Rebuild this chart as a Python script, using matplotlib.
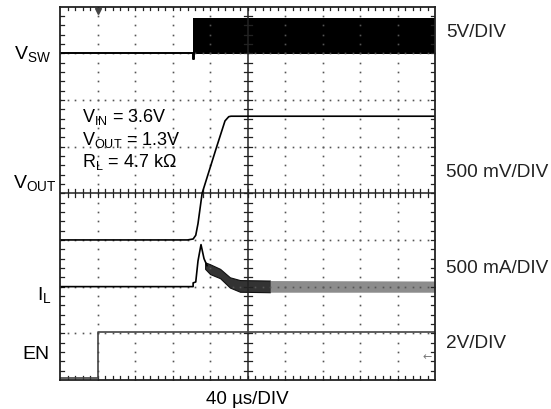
import numpy as np
import matplotlib
matplotlib.use("Agg")
import matplotlib.pyplot as plt

plt.rcParams['font.family'] = ['Liberation Sans', 'DejaVu Sans']
plt.rcParams['mathtext.fontset'] = 'custom'
plt.rcParams['mathtext.rm'] = 'Liberation Sans'
plt.rcParams['mathtext.it'] = 'Liberation Sans'

# Traces, in scope divisions (x: 0..10, y: 0..8)
vsw_t = [0.0, 3.55, 3.55, 3.58, 3.58]
vsw_v = [7.0, 7.0, 6.87, 6.87, 7.0]
vsw_band_t = [3.55, 10.0]
vsw_band_lo = [6.98, 6.98]
vsw_band_hi = [7.75, 7.75]

vout_t = [0.0, 3.40, 3.55, 3.62, 3.68, 3.79, 4.18, 4.40, 4.50, 4.56, 10.0]
vout_v = [3.0, 3.0, 3.02, 3.10, 3.35, 4.0, 5.0, 5.55, 5.64, 5.65, 5.65]

il_t = [0.0, 3.55, 3.55, 3.62, 3.68, 3.76, 3.84, 3.92]
il_v = [2.0, 2.0, 2.08, 2.10, 2.55, 2.90, 2.60, 2.45]
il_band_t = [3.87, 4.0, 4.27, 4.53, 4.80, 5.60]
il_band_hi = [2.52, 2.48, 2.38, 2.20, 2.14, 2.13]
il_band_lo = [2.38, 2.27, 2.18, 1.98, 1.89, 1.88]
il_steady_t = [5.60, 10.0]
il_steady_hi = [2.13, 2.12]
il_steady_lo = [1.88, 1.88]

en_t = [0.0, 1.0, 1.0, 10.0]
en_v = [0.04, 0.04, 1.03, 1.03]

left_labels = [r'V$_{\mathrm{SW}}$', r'V$_{\mathrm{OUT}}$', r'I$_{\mathrm{L}}$', 'EN']
left_x = [14, 13, 37, 22]
left_y = [7.0, 4.24, 1.84, 0.56]
right_labels = ['5V/DIV', '500 mV/DIV', '500 mA/DIV', '2V/DIV']
right_y = [7.47, 4.47, 2.42, 0.81]
notes = [r'V$_{\mathrm{IN}}$ = 3.6V', r'V$_{\mathrm{OUT}}$ = 1.3V', r'R$_{\mathrm{L}}$ = 4.7 kΩ']
notes_y = [5.65, 5.17, 4.7]

W, H = 551, 410
fig = plt.figure(figsize=(W / 100, H / 100), dpi=100)
ax = fig.add_axes([60 / W, (H - 381) / H, 375 / W, 373.5 / H])
ax.set_xlim(0, 10)
ax.set_ylim(0, 8)
ax.set_xticks([])
ax.set_yticks([])
for s in ax.spines.values():
    s.set_linewidth(1.3)
    s.set_color('#222222')

# dotted graticule
minor_x = np.arange(0, 10.01, 0.2)
minor_y = np.arange(0, 8.01, 0.2)
for gx in range(1, 10):
    if gx == 5:
        continue
    ax.plot(np.full_like(minor_y, gx), minor_y, ls='none', marker='s',
            ms=1.2, color='#555555', mew=0)
for gy in range(1, 8):
    if gy == 4:
        continue
    ax.plot(minor_x, np.full_like(minor_x, gy), ls='none', marker='s',
            ms=1.2, color='#555555', mew=0)

# centre cross and tick marks
ax.axvline(5, color='#222222', lw=1.1)
ax.axhline(4, color='#222222', lw=1.1)
tx = 4 / 37.5
ty = 4 / 46.7
for x in minor_x[1:-1]:
    ax.plot([x, x], [4 - ty, 4 + ty], color='#222222', lw=0.9)
    ax.plot([x, x], [8, 8 - ty], color='#222222', lw=0.9)
    ax.plot([x, x], [0, ty], color='#222222', lw=0.9)
for y in minor_y[1:-1]:
    ax.plot([5 - tx, 5 + tx], [y, y], color='#222222', lw=0.9)
    ax.plot([0, tx], [y, y], color='#222222', lw=0.9)
    ax.plot([10, 10 - tx], [y, y], color='#222222', lw=0.9)

# traces
ax.plot(vsw_t, vsw_v, color='black', lw=1.4)
ax.fill_between(vsw_band_t, vsw_band_lo, vsw_band_hi, color='black', lw=0)
ax.plot(vout_t, vout_v, color='black', lw=1.2)
ax.plot(il_t, il_v, color='black', lw=1.2)
ax.fill_between(il_band_t, il_band_lo, il_band_hi, color='#333333', lw=0.8,
                edgecolor='#111111')
ax.fill_between(il_steady_t, il_steady_lo, il_steady_hi, color='#8c8c8c', lw=0)
ax.plot(en_t, en_v, color='#444444', lw=1.2)

# trigger and ground markers
ax.plot([1.0], [7.9], marker='v', ms=5, color='#444444', clip_on=False)
ax.text(9.8, 0.52, '←', fontsize=8, color='#777777', ha='center', va='center',
        family='DejaVu Sans')

for lab, px, y in zip(left_labels, left_x, left_y):
    ax.text((px - 60) / 37.5, y, lab, fontsize=14, ha='left', va='center',
            clip_on=False)
for lab, y in zip(right_labels, right_y):
    ax.text(10.3, y, lab, fontsize=13.7, ha='left', va='center', color='#222222',
            clip_on=False)
for lab, y in zip(notes, notes_y):
    ax.text(0.6, y, lab, fontsize=13, ha='left', va='center')

ax.text(5, -0.22, '40 µs/DIV', fontsize=13.5, ha='center', va='top',
        clip_on=False)

fig.savefig('out.png', dpi=100)
